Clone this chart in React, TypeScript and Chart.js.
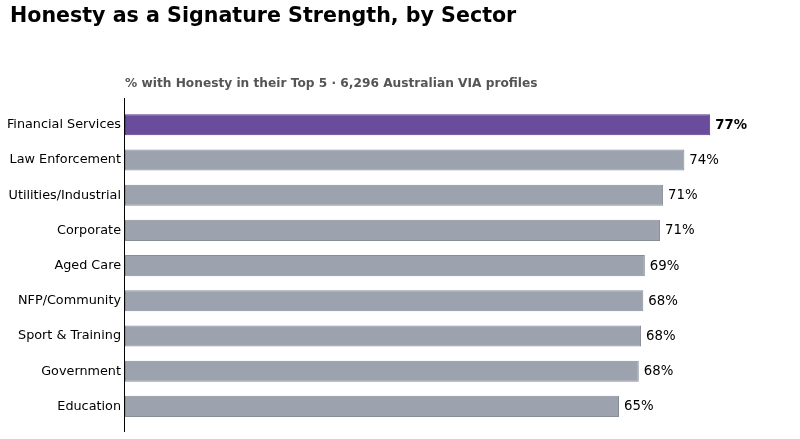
import React, { useEffect, useRef } from "react";
import { Chart, registerables } from "chart.js";

Chart.register(...registerables);

const categories = [
  "Financial Services",
  "Law Enforcement",
  "Utilities/Industrial",
  "Corporate",
  "Aged Care",
  "NFP/Community",
  "Sport & Training",
  "Government",
  "Education",
];
const values = [77, 73.6, 70.8, 70.4, 68.4, 68.2, 67.9, 67.6, 65.0];
const valueLabels = ["77%", "74%", "71%", "71%", "69%", "68%", "68%", "68%", "65%"];
const highlightIndex = 0;

const TITLE = "Honesty as a Signature Strength, by Sector";
const SUBTITLE = "% with Honesty in their Top 5 · 6,296 Australian VIA profiles";
const FONT = "'DejaVu Sans', sans-serif";

export default function App() {
  const ref = useRef<HTMLCanvasElement | null>(null);
  useEffect(() => {
    if (!ref.current) return;
    const fills = values.map((_, i) => (i === highlightIndex ? "#6a4c9c" : "#9ca3af"));
    const borders = values.map((_, i) => (i === highlightIndex ? "#553a85" : "#868d99"));
    const decor = {
      id: "decor",
      afterDraw(chart: any) {
        const ctx = chart.ctx;
        const area = chart.chartArea;
        ctx.save();
        ctx.fillStyle = "#000";
        ctx.font = `bold 20.6px ${FONT}`;
        ctx.textAlign = "left";
        ctx.textBaseline = "middle";
        ctx.fillText(TITLE, 10, 16.5);
        ctx.fillStyle = "#555555";
        ctx.font = `bold 12.2px ${FONT}`;
        ctx.fillText(SUBTITLE, area.left, 83.5);
        // left spine
        ctx.strokeStyle = "#000";
        ctx.lineWidth = 1;
        ctx.beginPath();
        ctx.moveTo(Math.round(area.left) - 0.5, 98);
        ctx.lineTo(Math.round(area.left) - 0.5, 432);
        ctx.stroke();
        // value labels
        const meta = chart.getDatasetMeta(0);
        meta.data.forEach((bar: any, i: number) => {
          ctx.fillStyle = "#000";
          ctx.font = `${i === highlightIndex ? "bold " : ""}13.3px ${FONT}`;
          ctx.textAlign = "left";
          ctx.textBaseline = "middle";
          ctx.fillText(valueLabels[i], bar.x + 5, bar.y + 0.5);
        });
        ctx.restore();
      },
    };
    const chart = new Chart(ref.current, {
      type: "bar",
      data: {
        labels: categories,
        datasets: [
          {
            data: values,
            backgroundColor: fills,
            borderColor: borders,
            borderWidth: 1,
            borderSkipped: false,
            categoryPercentage: 1,
            barPercentage: 0.6,
          },
        ],
      },
      options: {
        indexAxis: "y",
        animation: false,
        responsive: false,
        devicePixelRatio: 1,
        layout: { padding: { top: 107.2, bottom: 15, left: 0, right: 29 } },
        plugins: { legend: { display: false }, tooltip: { enabled: false }, title: { display: false } },
        scales: {
          x: { display: false, min: 0, max: 85 },
          y: {
            afterFit(scale: any) {
              scale.width = 125;
            },
            grid: { display: false, drawTicks: false },
            border: { display: false },
            ticks: { color: "#000", padding: 4, font: { family: FONT, size: 12.8 } },
          },
        },
      },
      plugins: [decor],
    });
    return () => chart.destroy();
  }, []);
  return (
    <div style={{ position: "fixed", left: 0, top: 0, width: 800, height: 439, background: "#fff" }}>
      <canvas ref={ref} width={800} height={439} style={{ width: 800, height: 439, display: "block" }} />
    </div>
  );
}
